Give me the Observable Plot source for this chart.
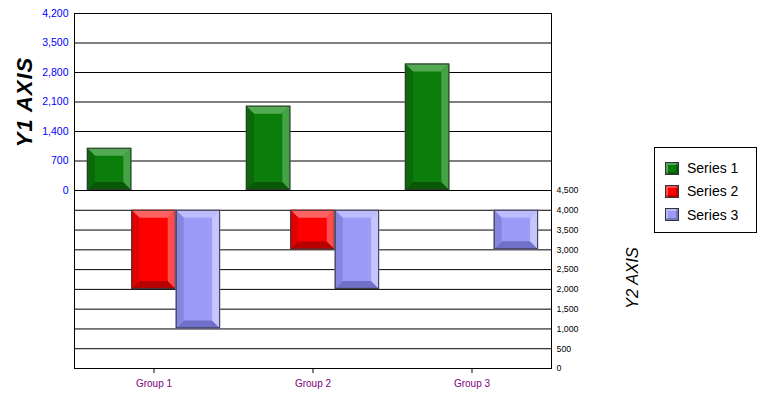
<!DOCTYPE html>
<html>
<head>
<meta charset="utf-8">
<script src="https://cdn.jsdelivr.net/npm/d3@7"></script>
<script src="https://cdn.jsdelivr.net/npm/@observablehq/plot@0.6"></script>
<style>
  html, body { margin: 0; padding: 0; background: #fff; }
  #chart { position: relative; width: 760px; height: 396px; overflow: hidden; font-family: "Liberation Sans", Arial, sans-serif; }
  #chart svg { position: absolute; left: 0; overflow: visible; }
  .axis-title { position: absolute; white-space: nowrap; transform: translate(-50%, -50%) rotate(-90deg); }
  #legend { position: absolute; left: 654px; top: 147px; width: 101px; height: 84px; border: 1px solid #000; background: #fff; }
  .item { position: absolute; left: 10px; height: 16px; display: flex; align-items: center; font-size: 14px; }
  .sw { width: 12px; height: 11px; border: 1px solid #333; margin-right: 8px; }
</style>
</head>
<body>
<div id="chart"></div>
<script>
// ---- data ----
const groups = ["Group 1", "Group 2", "Group 3"];
const seriesNames = ["Series 1", "Series 2", "Series 3"];
const series1 = [1000, 2000, 3000];      // Y1 axis (top panel)
const series2 = [2000, 3000, null];      // Y2 axis (bottom panel)
const series3 = [1000, 2000, 3000];      // Y2 axis (bottom panel)
const y2Base = 4000;                     // bottom-panel bars hang from this value
const y1Ticks = [0, 700, 1400, 2100, 2800, 3500, 4200];
const y2Ticks = [0, 500, 1000, 1500, 2000, 2500, 3000, 3500, 4000, 4500];
const colors = ["#0a7d0a", "#ff0000", "#9c9cf8"];

// bevel palettes keyed by base color
const palette = {
  "#0a7d0a": {top: "#52aa52", right: "#45a245", left: "#0b680b", bottom: "#085808"},
  "#ff0000": {top: "#ff6262", right: "#ff4c4c", left: "#e20000", bottom: "#b80000"},
  "#9c9cf8": {top: "#bcbcff", right: "#c6c6ff", left: "#8686e0", bottom: "#7070c8"}
};

const topData = groups.map((g, i) => ({group: g, series: "Series 1", value: series1[i]}));
const bottomData = [];
groups.forEach((g, i) => {
  if (series2[i] != null) bottomData.push({group: g, series: "Series 2", base: y2Base, value: series2[i]});
  if (series3[i] != null) bottomData.push({group: g, series: "Series 3", base: y2Base, value: series3[i]});
});

const common = {
  width: 760,
  marginLeft: 73,
  marginRight: 209,
  fx: {domain: groups, padding: 0},
  x: {domain: seriesNames, paddingInner: 0, paddingOuter: 0.29, round: false, axis: null},
  color: {domain: seriesNames, range: colors},
  style: {background: "transparent", fontFamily: "Liberation Sans, Arial, sans-serif", overflow: "visible"}
};

const topPlot = Plot.plot({
  ...common,
  height: 200,
  marginTop: 13,
  marginBottom: 10,
  fx: {...common.fx, axis: null},
  y: {domain: [0, 4200], label: null},
  marks: [
    Plot.gridY(y1Ticks, {stroke: "#000", strokeOpacity: 1, strokeWidth: 1}),
    Plot.axisY(y1Ticks, {anchor: "left", tickSize: 0, tickPadding: 6, fill: "#0000ff", fontSize: 10.5, label: null, tickFormat: d3.format(",")}),
    Plot.barY(topData, {fx: "group", x: "series", y: "value", fill: "series"}),
    Plot.frame({anchor: "left", facet: "super", stroke: "#000"}),
    Plot.frame({anchor: "right", facet: "super", stroke: "#000"})
  ]
});

const bottomPlot = Plot.plot({
  ...common,
  height: 216,
  marginTop: 10,
  marginBottom: 28,
  y: {domain: [0, 4500], label: null},
  marks: [
    Plot.gridY(y2Ticks, {stroke: "#000", strokeOpacity: 1, strokeWidth: 1}),
    Plot.axisY(y2Ticks, {anchor: "right", tickSize: 0, tickPadding: 5, fill: "#000", fontSize: 8.8, label: null, tickFormat: d3.format(",")}),
    Plot.axisFx({anchor: "bottom", tickSize: 5, tickPadding: 6, fill: "#800080", fontSize: 10, label: null}),
    Plot.barY(bottomData, {fx: "group", x: "series", y1: "base", y2: "value", fill: "series"}),
    Plot.frame({anchor: "left", facet: "super", stroke: "#000"}),
    Plot.frame({anchor: "right", facet: "super", stroke: "#000"})
  ]
});

// ---- bevel decoration of the bars drawn by Plot ----
const NS = "http://www.w3.org/2000/svg";
function bevel(svg) {
  svg.querySelectorAll('g[aria-label="bar"] rect').forEach(r => {
    const fill = (r.getAttribute("fill") || r.parentNode.getAttribute("fill") || "").toLowerCase();
    const p = palette[fill];
    if (!p) return;
    const x = +r.getAttribute("x"), y = +r.getAttribute("y");
    const w = +r.getAttribute("width"), h = +r.getAttribute("height");
    const b = Math.min(8, w / 2, h / 2);
    const polys = [
      [p.top, [[x, y], [x + w, y], [x + w - b, y + b], [x + b, y + b]]],
      [p.bottom, [[x, y + h], [x + w, y + h], [x + w - b, y + h - b], [x + b, y + h - b]]],
      [p.left, [[x, y], [x + b, y + b], [x + b, y + h - b], [x, y + h]]],
      [p.right, [[x + w, y], [x + w - b, y + b], [x + w - b, y + h - b], [x + w, y + h]]]
    ];
    let ref = r.nextSibling;
    const parent = r.parentNode;
    for (const [c, pts] of polys) {
      const pg = document.createElementNS(NS, "polygon");
      pg.setAttribute("points", pts.map(q => q.join(",")).join(" "));
      pg.setAttribute("fill", c);
      pg.setAttribute("stroke", "none");
      parent.insertBefore(pg, ref);
    }
    const o = document.createElementNS(NS, "rect");
    o.setAttribute("x", x + 0.5); o.setAttribute("y", y + 0.5);
    o.setAttribute("width", Math.max(0, w - 1)); o.setAttribute("height", Math.max(0, h - 1));
    o.setAttribute("fill", "none"); o.setAttribute("stroke", "#383838");
    parent.insertBefore(o, ref);
  });
}
bevel(topPlot);
bevel(bottomPlot);

const chart = document.getElementById("chart");
topPlot.style.top = "0px";
bottomPlot.style.top = "180px";
chart.appendChild(topPlot);
chart.appendChild(bottomPlot);

// axis titles
const t1 = document.createElement("div");
t1.className = "axis-title";
t1.textContent = "Y1 AXIS";
Object.assign(t1.style, {left: "25px", top: "102px", fontSize: "22px", letterSpacing: "1px", fontWeight: "bold", fontStyle: "italic"});
chart.appendChild(t1);
const t2 = document.createElement("div");
t2.className = "axis-title";
t2.textContent = "Y2 AXIS";
Object.assign(t2.style, {left: "632px", top: "278px", fontSize: "16.5px", fontStyle: "italic"});
chart.appendChild(t2);

// legend
const legend = document.createElement("div");
legend.id = "legend";
seriesNames.forEach((s, i) => {
  const it = document.createElement("div");
  it.className = "item";
  it.style.top = (12 + i * 23.3) + "px";
  const sw = document.createElement("div");
  sw.className = "sw";
  sw.style.background = colors[i];
  sw.style.boxShadow = "inset -2px -2px 0 rgba(0,0,0,0.25), inset 2px 2px 0 rgba(255,255,255,0.3)";
  const tx = document.createElement("span");
  tx.textContent = s;
  it.appendChild(sw); it.appendChild(tx);
  legend.appendChild(it);
});
chart.appendChild(legend);
</script>
</body>
</html>
